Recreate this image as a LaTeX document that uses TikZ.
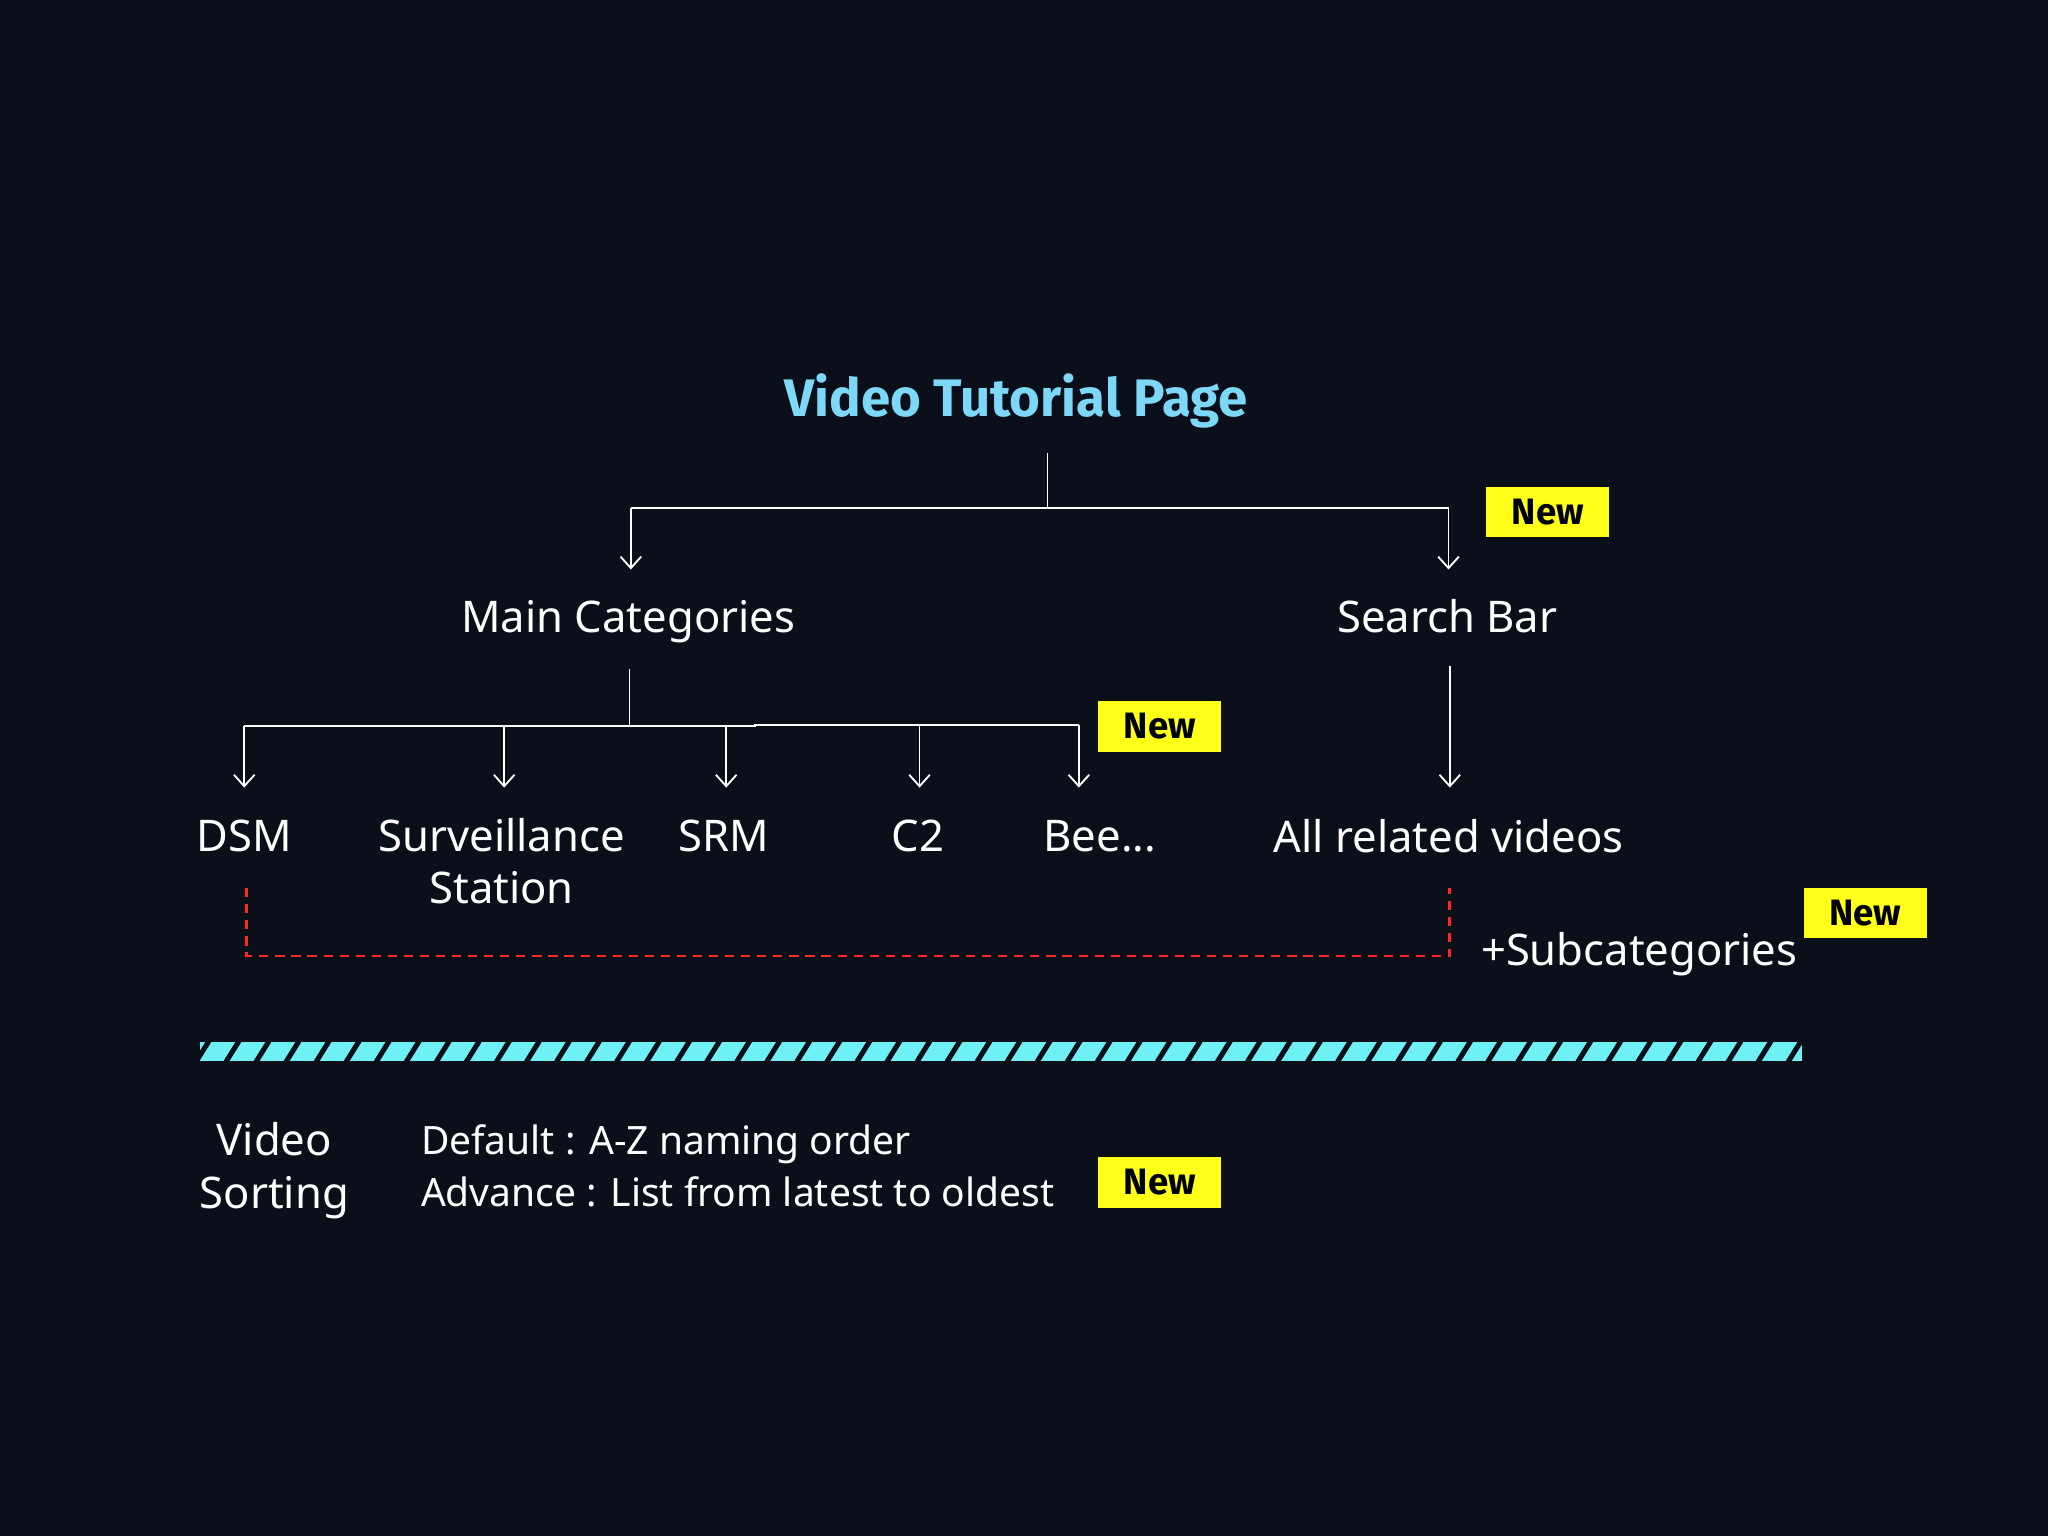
\documentclass[tikz,border=0pt]{standalone}
\usepackage{fontspec}
\setmainfont{Noto Sans}
\newfontfamily\boldf{Fira Sans}
\usetikzlibrary{arrows.meta}
\definecolor{bg}{HTML}{0B0F19}
\definecolor{ttl}{HTML}{7DD8F8}
\definecolor{ylw}{HTML}{FFFF1A}
\definecolor{cy}{HTML}{6EF0F5}
\begin{document}
\begin{tikzpicture}[x=0.02cm,y=-0.02cm,
  txt/.style={text=white,font=\fontsize{19}{23}\selectfont,align=center,inner sep=0},
  new/.style={fill=ylw,text=black,font=\boldf\fontsize{16}{18}\bfseries\selectfont,minimum width=94*0.02cm,minimum height=39*0.02cm,inner sep=0},
  ln/.style={draw=white!85,line width=0.8pt},
  arr/.style={ln,-{Straight Barb[length=5pt,width=9pt]}}]
\fill[bg] (0,0) rectangle (1568,1176);
\useasboundingbox (0,0) rectangle (1568,1176);
\node[text=ttl,font=\boldf\fontsize{23}{26}\bfseries\selectfont,inner sep=0] (title) at (778,307) {Video Tutorial Page};
\coordinate (t0) at (802,347); \coordinate (t1) at (802,389);
\coordinate (tl) at (483,389); \coordinate (tr) at (1109,389);
\coordinate (al) at (483,436); \coordinate (ar) at (1109,436);
\draw[ln] (t0) -- (t1) (tl) -- (tr);
\draw[arr] (tl) -- (al); \draw[arr] (tr) -- (ar);
\node[new] (n1) at (1185,392) {New};
\node[txt,anchor=base] (mc) at (481,484) {Main Categories};
\node[txt,anchor=base] (sb) at (1108,484) {Search Bar};
\coordinate (m0) at (482,512); \coordinate (m1) at (482,556);
\coordinate (h0) at (187,556); \coordinate (h1) at (578,556); \coordinate (h2) at (578,555); \coordinate (h3) at (826,555);
\draw[ln] (m0) -- (m1) (h0) -- (h1) -- (h2) -- (h3);
\foreach \x/\y in {187/556,386/556,556/556,704/555,826/555}{
  \draw[arr] (\x,\y) -- (\x,603);}
\node[new] (n2) at (888,556) {New};
\coordinate (s0) at (1110,510); \coordinate (s1) at (1110,603);
\draw[arr] (s0) -- (s1);
\node[txt,anchor=base] (dsm) at (187,652) {DSM};
\node[txt,anchor=base] (ss) at (384,692) {Surveillance\\Station};
\node[txt,anchor=base] (srm) at (554,652) {SRM};
\node[txt,anchor=base] (c2) at (703,652) {C2};
\node[txt,anchor=base] (bee) at (842,652) {Bee...};
\node[txt,anchor=base] (arv) at (1109,653) {All related videos};
\coordinate (r0) at (189,680); \coordinate (r1) at (189,732); \coordinate (r2) at (1110,732); \coordinate (r3) at (1110,680);
\draw[red!85!white,line width=1.2pt,dash pattern=on 4pt off 3pt] (r0) -- (r1) -- (r2) -- (r3);
\node[txt,anchor=base] (sub) at (1255,739) {+Subcategories};
\node[new] (n3) at (1428,699) {New};
\fill[cy] (153,798) rectangle (1380,812);
\begin{scope}
\clip (153,798) rectangle (1380,812);
\foreach \i in {0,...,54}{
  \draw[bg,line width=2.2pt] ({150+23*\i},813) -- ({160+23*\i},797);}
\end{scope}
\node[txt,anchor=base] (vs) at (210,925) {Video\\Sorting};
\node[txt,anchor=base west,font=\fontsize{17}{20}\selectfont] (d1) at (322,884) {Default : A-Z naming order};
\node[txt,anchor=base west,font=\fontsize{17}{20}\selectfont] (d2) at (322,924) {Advance : List from latest to oldest};
\node[new] (n4) at (888,905) {New};
\end{tikzpicture}
\end{document}
